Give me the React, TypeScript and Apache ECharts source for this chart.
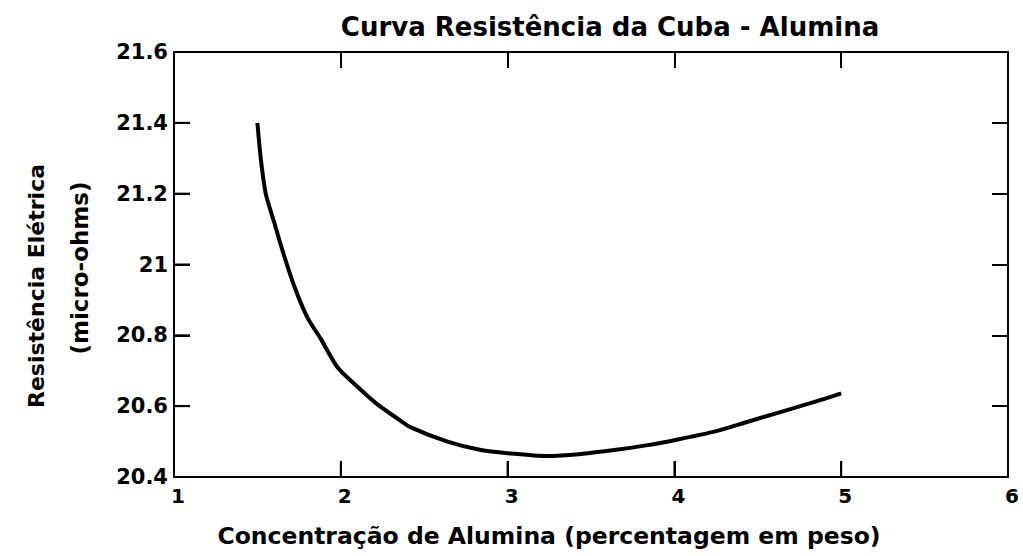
import React, { useEffect, useRef } from "react";
import * as echarts from "echarts";

const titleText = "Curva Resistência da Cuba - Alumina";
const xAxisName = "Concentração de Alumina (percentagem em peso)";
const yAxisName1 = "Resistência Elétrica";
const yAxisName2 = "(micro-ohms)";

const alumina = [1.5, 1.52, 1.55, 1.6, 1.65, 1.72, 1.8, 1.88, 1.98, 2.1, 2.22, 2.34, 2.42, 2.64, 2.84, 3.0, 3.24, 3.44, 3.64, 3.84, 4.0, 4.24, 4.44, 4.64, 4.84, 5.0];
const resistance = [21.4, 21.3, 21.2, 21.12, 21.04, 20.94, 20.85, 20.79, 20.71, 20.655, 20.605, 20.565, 20.54, 20.5, 20.476, 20.467, 20.459, 20.465, 20.476, 20.49, 20.504, 20.528, 20.556, 20.584, 20.612, 20.636];

const xMin = 1, xMax = 6, xStep = 1;
const yMin = 20.4, yMax = 21.6, yStep = 0.2;
const xTickValues = [2, 3, 4, 5];
const yTickValues = [20.6, 20.8, 21.0, 21.2, 21.4];

const TICK_LEN = 16;

export default function App() {
  const ref = useRef<HTMLDivElement>(null);
  useEffect(() => {
    if (!ref.current) return;
    const chart = echarts.init(ref.current, undefined, { renderer: "svg" });
    const font = "DejaVu Sans";
    const mkLine = () => ({ onZero: false, lineStyle: { color: "#000", width: 2 } });
    const mkTick = () => ({ show: true, inside: true, length: TICK_LEN, lineStyle: { color: "#000", width: 2 } });
    const tickStyle = { stroke: "#000000", lineWidth: 2.5, fill: null };
    chart.setOption({
      animation: false,
      backgroundColor: "#fff",
      grid: { left: 174, top: 52, right: 15, bottom: 79, containLabel: false },
      title: {
        text: titleText,
        left: 605,
        top: 9,
        textAlign: "center",
        textStyle: { fontFamily: font, fontWeight: "bold", fontSize: 26, color: "#000" },
      },
      xAxis: [
        {
          type: "value", min: xMin, max: xMax, interval: xStep, position: "bottom",
          axisLine: mkLine(), axisTick: mkTick(), splitLine: { show: false },
          axisLabel: { color: "#000", fontFamily: font, fontWeight: "bold", fontSize: 20, margin: 9, padding: [0, 0, 0, 8] },
          name: xAxisName, nameLocation: "middle", nameGap: 47,
          nameTextStyle: { color: "#000", fontFamily: font, fontWeight: "bold", fontSize: 23.5, padding: [0, 84, 0, 0] },
        },
        {
          type: "value", min: xMin, max: xMax, interval: xStep, position: "top",
          axisLine: mkLine(), axisTick: mkTick(), splitLine: { show: false }, axisLabel: { show: false },
        },
      ],
      yAxis: [
        {
          type: "value", min: yMin, max: yMax, interval: yStep, position: "left",
          axisLine: mkLine(), axisTick: mkTick(), splitLine: { show: false },
          axisLabel: { color: "#000", fontFamily: font, fontWeight: "bold", fontSize: 21, margin: 6 },
        },
        {
          type: "value", min: yMin, max: yMax, interval: yStep, position: "right",
          axisLine: mkLine(), axisTick: mkTick(), splitLine: { show: false }, axisLabel: { show: false },
        },
      ],
      graphic: [
        {
          type: "text", x: 36, y: 286, rotation: Math.PI / 2,
          style: { text: yAxisName1, fill: "#000", font: `bold 22px "${font}"`, textAlign: "center", textVerticalAlign: "middle" },
        },
        {
          type: "text", x: 80, y: 268, rotation: Math.PI / 2,
          style: { text: yAxisName2, fill: "#000", font: `bold 23px "${font}"`, textAlign: "center", textVerticalAlign: "middle" },
        },
      ],
      series: [
        {
          type: "line",
          xAxisIndex: 0,
          yAxisIndex: 0,
          data: alumina.map((x, i) => [x, resistance[i]]),
          smooth: 0.25,
          showSymbol: false,
          lineStyle: { color: "#000", width: 4 },
          z: 1,
        },
        {
          type: "custom",
          xAxisIndex: 0,
          yAxisIndex: 0,
          clip: false,
          silent: true,
          z: 10,
          encode: { x: 0, y: 1 },
          data: xTickValues.map((v) => [v, yMin]),
          renderItem: (params: any, api: any) => {
            const p = api.coord([api.value(0), api.value(1)]);
            return {
              type: "rect",
              shape: { x: p[0] - 1, y: p[1] - TICK_LEN, width: 2, height: TICK_LEN },
              style: { fill: "#000" },
            };
          },
        },
        {
          type: "custom",
          xAxisIndex: 0,
          yAxisIndex: 0,
          clip: false,
          silent: true,
          z: 10,
          encode: { x: 0, y: 1 },
          data: yTickValues.map((v) => [xMin, v]),
          renderItem: (params: any, api: any) => {
            const p = api.coord([api.value(0), api.value(1)]);
            return {
              type: "rect",
              shape: { x: p[0], y: p[1] - 1, width: TICK_LEN, height: 2 },
              style: { fill: "#000" },
            };
          },
        },
      ],
    });
    return () => chart.dispose();
  }, []);
  return <div ref={ref} style={{ position: "fixed", left: 0, top: 0, width: 1023, height: 556 }} />;
}
